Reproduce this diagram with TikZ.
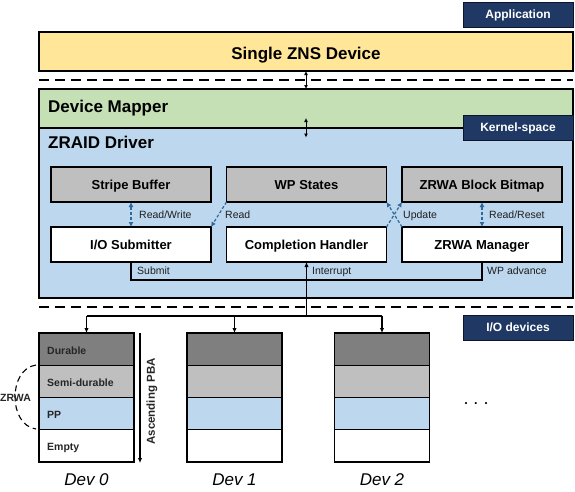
\documentclass[tikz,border=0pt]{standalone}
\usepackage{fontspec}
\setmainfont{Liberation Sans}
\usetikzlibrary{arrows.meta}
\definecolor{znsyellow}{RGB}{255,230,153}
\definecolor{dmgreen}{RGB}{197,224,180}
\definecolor{zblue}{RGB}{189,215,238}
\definecolor{boxgray}{RGB}{191,191,191}
\definecolor{durgray}{RGB}{127,127,127}
\definecolor{navy}{RGB}{31,56,100}
\definecolor{arrowblue}{RGB}{46,105,155}
\definecolor{labeltext}{RGB}{30,30,30}
\begin{document}
\begin{tikzpicture}[x=1pt,y=-1pt,
  layer/.style={draw=black, line width=1.3pt, inner sep=0pt, outer sep=0pt, anchor=north west},
  tag/.style={fill=navy, draw=black!60!navy, line width=0.8pt, text=white,
    font=\fontsize{12}{14}\selectfont\bfseries, inner sep=0pt, outer sep=0pt,
    minimum width=110pt, minimum height=25pt, text height=8.6pt, text depth=0pt, anchor=north west},
  bigtext/.style={font=\fontsize{17}{20}\selectfont\bfseries, inner sep=0pt},
  compbox/.style={draw=black, line width=1.3pt, minimum width=160pt, minimum height=35pt,
    inner sep=0pt, outer sep=0pt, font=\fontsize{13}{15}\selectfont\bfseries,
    text height=9.4pt, text depth=0pt},
  smalllabel/.style={font=\fontsize{10.5}{12}\selectfont, text=labeltext, inner sep=0pt, anchor=base west},
  bluearrow/.style={draw=arrowblue, line width=1.2pt, dash pattern=on 3pt off 2pt,
    arrows={-{Latex[length=5pt,width=5pt]}}},
  bluedarrow/.style={draw=arrowblue, line width=1.2pt, dash pattern=on 3pt off 2pt,
    arrows={{Latex[length=5pt,width=5pt]}-{Latex[length=5pt,width=5pt]}}},
  dashsep/.style={line width=1.3pt, dash pattern=on 10pt off 6pt},
  blackarrow/.style={line width=1.2pt, arrows={-{Latex[length=5pt,width=4.5pt]}}},
  blackdarrow/.style={line width=1pt, arrows={{Latex[length=4pt,width=4pt]}-{Latex[length=4pt,width=4pt]}}},
  cell/.style={draw=black, line width=1.3pt, minimum width=95pt, minimum height=32.25pt,
    inner sep=0pt, outer sep=0pt, anchor=north},
  celltext/.style={font=\fontsize{10.5}{12}\selectfont\bfseries, inner sep=0pt, anchor=base west, text=black!85},
  devlabel/.style={font=\fontsize{17}{20}\selectfont\itshape, inner sep=0pt, anchor=base}
]
\useasboundingbox (0,0) rectangle (575,491);

% layers
\node[layer, fill=znsyellow, minimum width=534pt, minimum height=39pt] (zns) at (39,32) {};
\node[layer, fill=dmgreen, minimum width=534pt, minimum height=39pt] (dm) at (39,89) {};
\node[layer, fill=zblue, minimum width=534pt, minimum height=170pt] (zraid) at (39,128) {};

\node[bigtext, anchor=base] (znstext) at (306,59) {Single ZNS Device};
\node[bigtext, anchor=base west] (dmtext) at (48,112) {Device Mapper};
\node[bigtext, anchor=base west] (zraidtext) at (48,148.5) {ZRAID Driver};

% tags
\node[tag] (apptag) at (463,2) {Application};
\node[tag] (kerneltag) at (463,115) {Kernel-space};
\node[tag] (iotag) at (463,315) {I/O devices};

% separators
\coordinate (sepAl) at (39,80);
\coordinate (sepAr) at (573,80);
\coordinate (sepBl) at (39,307);
\coordinate (sepBr) at (573,307);
\draw[dashsep] (sepAl) -- (sepAr);
\draw[dashsep] (sepBl) -- (sepBr);

% vertical arrows between layers
\draw[blackdarrow] (zns.south) -- (dm.north);
\coordinate (dmzT) at (306,118);
\coordinate (dmzB) at (306,137.5);
\draw[blackdarrow] (dmzT) -- (dmzB);

% components
\node[compbox, fill=boxgray] (sb) at (131,184.5) {Stripe Buffer};
\node[compbox, fill=boxgray] (wp) at (306.5,184.5) {WP States};
\node[compbox, fill=boxgray] (bb) at (482,184.5) {ZRWA Block Bitmap};
\node[compbox, fill=white] (ios) at (131,244.5) {I/O Submitter};
\node[compbox, fill=white] (ch) at (306.5,244.5) {Completion Handler};
\node[compbox, fill=white] (zm) at (482,244.5) {ZRWA Manager};

% internal dashed arrows
\draw[bluedarrow] (sb.south) -- (ios.north);
\draw[bluearrow] (wp.south west) -- (ios.north east);
\draw[bluearrow] (ch.north east) -- (bb.south west);
\draw[bluearrow] (zm.north west) -- (wp.south east);
\draw[bluedarrow] (bb.south) -- (zm.north);

\node[smalllabel] (lrw) at (139,218) {Read/Write};
\node[smalllabel] (lread) at (225,218) {Read};
\node[smalllabel] (lupd) at (403,218) {Update};
\node[smalllabel] (lrr) at (489,218) {Read/Reset};

% submit / WP advance path
\draw[line width=1.2pt] (ios.south) -- ++(0,18) -| (zm.south);
\node[smalllabel] (lsub) at (137,274) {Submit};
\node[smalllabel] (lint) at (312,274) {Interrupt};
\node[smalllabel] (lwpa) at (487,274) {WP advance};

% devices
\foreach \i/\x in {0/86.5,1/234.5,2/382}{
  \node[cell, fill=durgray] (d\i a) at (\x,333) {};
  \node[cell, fill=boxgray] (d\i b) at (\x,365.25) {};
  \node[cell, fill=zblue] (d\i c) at (\x,397.5) {};
  \node[cell, fill=white] (d\i d) at (\x,429.75) {};
}
\node[devlabel] (dev0) at (86.5,485) {Dev 0};
\node[devlabel] (dev1) at (234.5,485) {Dev 1};
\node[devlabel] (dev2) at (382,485) {Dev 2};

\node[celltext] (tdur) at (47,354) {Durable};
\node[celltext] (tsemi) at (47,386.7) {Semi-durable};
\node[celltext] (tpp) at (47,418) {PP};
\node[celltext] (tempty) at (47,450) {Empty};

% bus
\coordinate (busL) at (86.5,316);
\coordinate (busC) at (234.5,316);
\coordinate (busM) at (306.5,316);
\coordinate (busR) at (382,316);
\draw[line width=1.2pt] (busL) -- (busR);
\draw[blackarrow] (busL) -- (d0a.north);
\draw[blackarrow] (busC) -- (d1a.north);
\draw[blackarrow] (busR) -- (d2a.north);
\draw[blackarrow] (busM) -- (ch.south);

% ascending PBA
\coordinate (pbaT) at (140,333);
\coordinate (pbaB) at (140,463);
\draw[blackarrow] (pbaT) -- (pbaB);
\node[font=\fontsize{11.5}{13}\selectfont\bfseries, rotate=90, inner sep=0pt, text=black!85] (pba) at (152,401.5) {Ascending PBA};

% ZRWA arc
\coordinate (zrwaT) at (36,365);
\coordinate (zrwaB) at (36,429);
\draw[line width=1.1pt, dash pattern=on 6pt off 4pt] (zrwaT) .. controls (8,369) and (8,425) .. (zrwaB);
\node[font=\fontsize{10.5}{12}\selectfont\bfseries, inner sep=0pt, anchor=base, text=black!85] (zrwa) at (15.5,401.5) {ZRWA};

% ellipsis
\node[font=\fontsize{18}{20}\selectfont, inner sep=0pt, anchor=base] (dots) at (476,404) {.\hspace{5pt}.\hspace{5pt}.};
\end{tikzpicture}
\end{document}
